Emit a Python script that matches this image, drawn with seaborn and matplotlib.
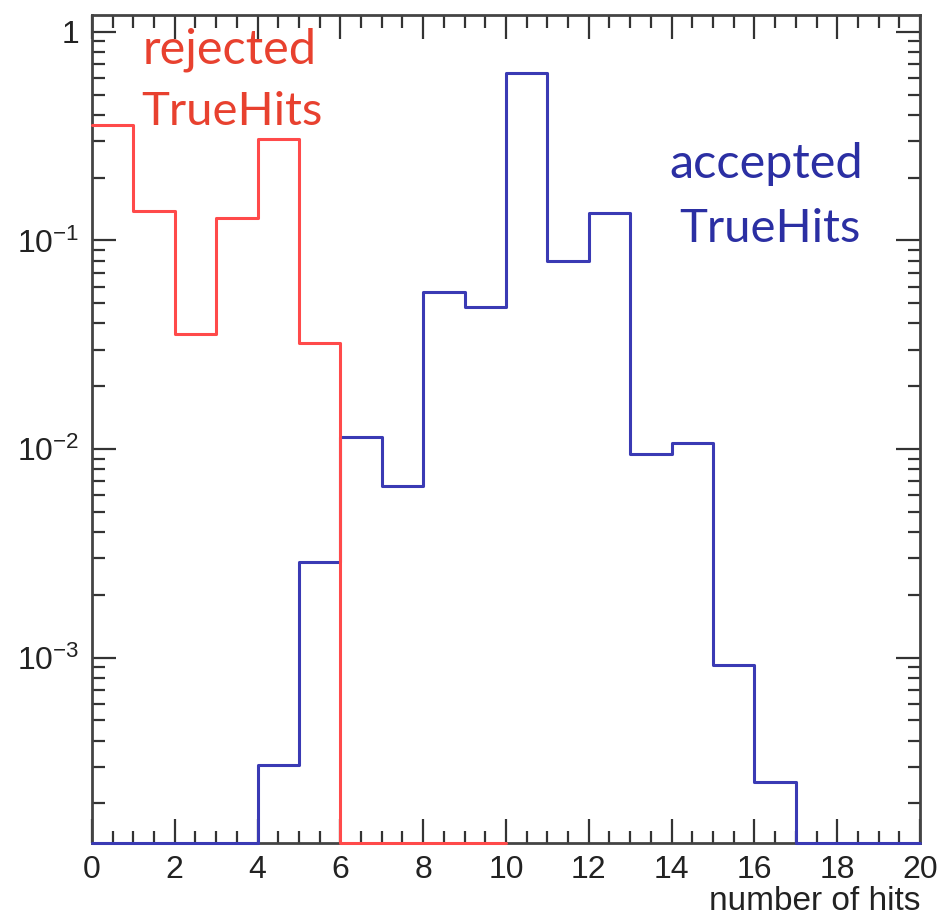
import numpy as np
import pandas as pd
import matplotlib
matplotlib.use("Agg")
import matplotlib.pyplot as plt
import matplotlib.ticker as mticker
import seaborn as sns

# histogram contents (fraction per bin, 1 hit wide bins)
rejected_edges = list(range(0, 11))
rejected_vals = [0.358, 0.139, 0.0356, 0.128, 0.307, 0.0322, 0, 0, 0, 0]

accepted_edges = list(range(0, 21))
accepted_vals = [0, 0, 0, 0, 3.05e-4, 2.87e-3, 0.0114, 0.00665, 0.0566, 0.048,
                 0.636, 0.0797, 0.1355, 0.00946, 0.0107, 9.2e-4, 2.53e-4, 0, 0, 0]

y_ticks = [1e-3, 1e-2, 1e-1, 1]
y_ticklabels = [r"$\mathregular{10^{-3}}$", r"$\mathregular{10^{-2}}$",
                r"$\mathregular{10^{-1}}$", "1"]
x_ticks = list(range(0, 21, 2))

ymin, ymax = 1.29e-4, 1.206

sns.set_style("ticks")
plt.rcParams['font.family'] = ['Liberation Sans', 'DejaVu Sans']
plt.rcParams['mathtext.fontset'] = 'custom'
plt.rcParams['mathtext.rm'] = 'Liberation Sans'
plt.rcParams['axes.unicode_minus'] = False


def to_frame(edges, vals):
    centers = np.array(edges[:-1]) + 0.5
    # ROOT draws empty bins on the bottom of the frame
    w = np.maximum(np.array(vals, dtype=float), ymin)
    return pd.DataFrame({'hits': centers, 'w': w})


fig = plt.figure(figsize=(9.47, 9.19), dpi=100)
ax = fig.add_axes([0.0971, 0.0827, 0.8744, 0.901])

df_rej = to_frame(rejected_edges, rejected_vals)
df_acc = to_frame(accepted_edges, accepted_vals)

sns.histplot(data=df_acc, x='hits', weights='w', bins=accepted_edges,
             element='step', fill=False, color='#3a3ab4', linewidth=2.2, ax=ax)
sns.histplot(data=df_rej, x='hits', weights='w', bins=rejected_edges,
             element='step', fill=False, color='#ff4a4a', linewidth=2.2, ax=ax)
for ln in ax.lines:
    ln.set_clip_on(False)
    ln.set_zorder(3)

ax.set_yscale('log')
ax.set_xlim(0, 20)
ax.set_ylim(ymin, ymax)

ax.set_xticks(x_ticks)
ax.xaxis.set_minor_locator(mticker.MultipleLocator(0.5))
ax.set_yticks(y_ticks)
ax.set_yticklabels(y_ticklabels)
ax.yaxis.set_minor_locator(mticker.LogLocator(base=10, subs=np.arange(2, 10)))
ax.yaxis.set_minor_formatter(mticker.NullFormatter())

ax.tick_params(which='both', direction='in', top=True, right=True,
               color='#333333', labelcolor='#222222', labelsize=23)
ax.tick_params(which='major', length=17, width=1.6)
ax.tick_params(which='minor', length=9, width=1.6)
ax.tick_params(axis='x', pad=9)
ax.tick_params(axis='y', pad=9)
for s in ax.spines.values():
    s.set_color('#444444')
    s.set_linewidth(2)

ax.set_ylabel('')
ax.set_xlabel('number of hits', fontsize=24, color='#222222', ha='right', va='baseline')
ax.xaxis.set_label_coords(1.0, -0.0815)

ax.text(0.166, 0.942, 'rejected', transform=ax.transAxes, ha='center', va='baseline',
        fontsize=35, color='#e8412f', family=['Lato', 'DejaVu Sans'])
ax.text(0.169, 0.867, 'TrueHits', transform=ax.transAxes, ha='center', va='baseline',
        fontsize=34, color='#e8412f', family=['Lato', 'DejaVu Sans'])
ax.text(0.814, 0.803, 'accepted', transform=ax.transAxes, ha='center', va='baseline',
        fontsize=35, color='#2b2fa3', family=['Lato', 'DejaVu Sans'])
ax.text(0.819, 0.726, 'TrueHits', transform=ax.transAxes, ha='center', va='baseline',
        fontsize=34, color='#2b2fa3', family=['Lato', 'DejaVu Sans'])

fig.savefig('out.png', dpi=100)
